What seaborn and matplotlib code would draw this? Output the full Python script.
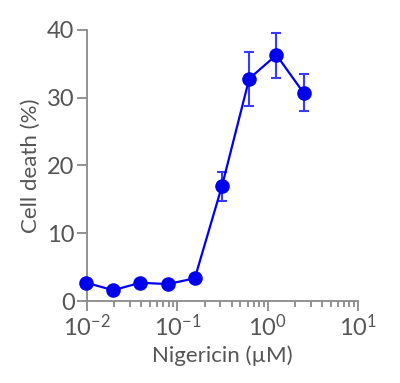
import numpy as np
import pandas as pd
import matplotlib
matplotlib.use("Agg")
import matplotlib.pyplot as plt
import seaborn as sns

# Nigericin dose (uM) and cell death (%)
conc = [0.0098, 0.0195, 0.039, 0.078, 0.156, 0.3125, 0.625, 1.25, 2.5]
death = [2.7, 1.6, 2.7, 2.5, 3.35, 17.0, 32.8, 36.3, 30.7]
err_low = [0.0, 0.0, 0.0, 0.0, 0.0, 2.2, 4.0, 3.4, 2.6]
err_high = [0.0, 0.0, 0.0, 0.0, 0.0, 2.1, 3.9, 3.3, 2.8]

df = pd.DataFrame({"conc": conc, "death": death})

sns.set_style("ticks")
plt.rcParams["font.family"] = ["Lato", "DejaVu Sans"]
plt.rcParams["mathtext.fontset"] = "custom"
plt.rcParams["mathtext.rm"] = "Lato"
plt.rcParams["mathtext.it"] = "Lato"
plt.rcParams["mathtext.default"] = "regular"
plt.rcParams["axes.unicode_minus"] = False

text_col = "#555555"
axis_col = "#8a8a8a"
blue = "#0000ee"

fig = plt.figure(figsize=(4.0, 3.83), dpi=100)
ax = fig.add_axes([0.2175, 0.214, 0.6775, 0.708])

ax.errorbar(conc, death, yerr=[err_low, err_high], fmt="none",
            ecolor="#3a3aff", elinewidth=1.5, capsize=3.5, capthick=1.5,
            clip_on=False, zorder=2)
sns.lineplot(data=df, x="conc", y="death", ax=ax, color=blue, linewidth=1.6,
             marker="o", markersize=10.5, markeredgewidth=0, clip_on=False,
             zorder=3)

ax.set_xscale("log")
ax.set_xlim(1e-2, 1e1)
ax.set_ylim(0, 40)
ax.set_yticks([0, 10, 20, 30, 40])

sns.despine(ax=ax)
for s in ["left", "bottom"]:
    ax.spines[s].set_color(axis_col)
    ax.spines[s].set_linewidth(1.3)

ax.tick_params(axis="both", which="major", length=7.5, width=1.3,
               color=axis_col, labelsize=17, labelcolor=text_col, pad=1.5)
ax.tick_params(axis="x", which="minor", length=4, width=1.3, color=axis_col)
ax.xaxis.set_minor_locator(matplotlib.ticker.LogLocator(base=10, subs=np.arange(2, 10)))

ax.set_xlabel("Nigericin (µM)", fontsize=16, color=text_col, labelpad=4)
ax.set_ylabel("Cell death (%)", fontsize=16, color=text_col, labelpad=4)

fig.savefig("out.png", dpi=100)
